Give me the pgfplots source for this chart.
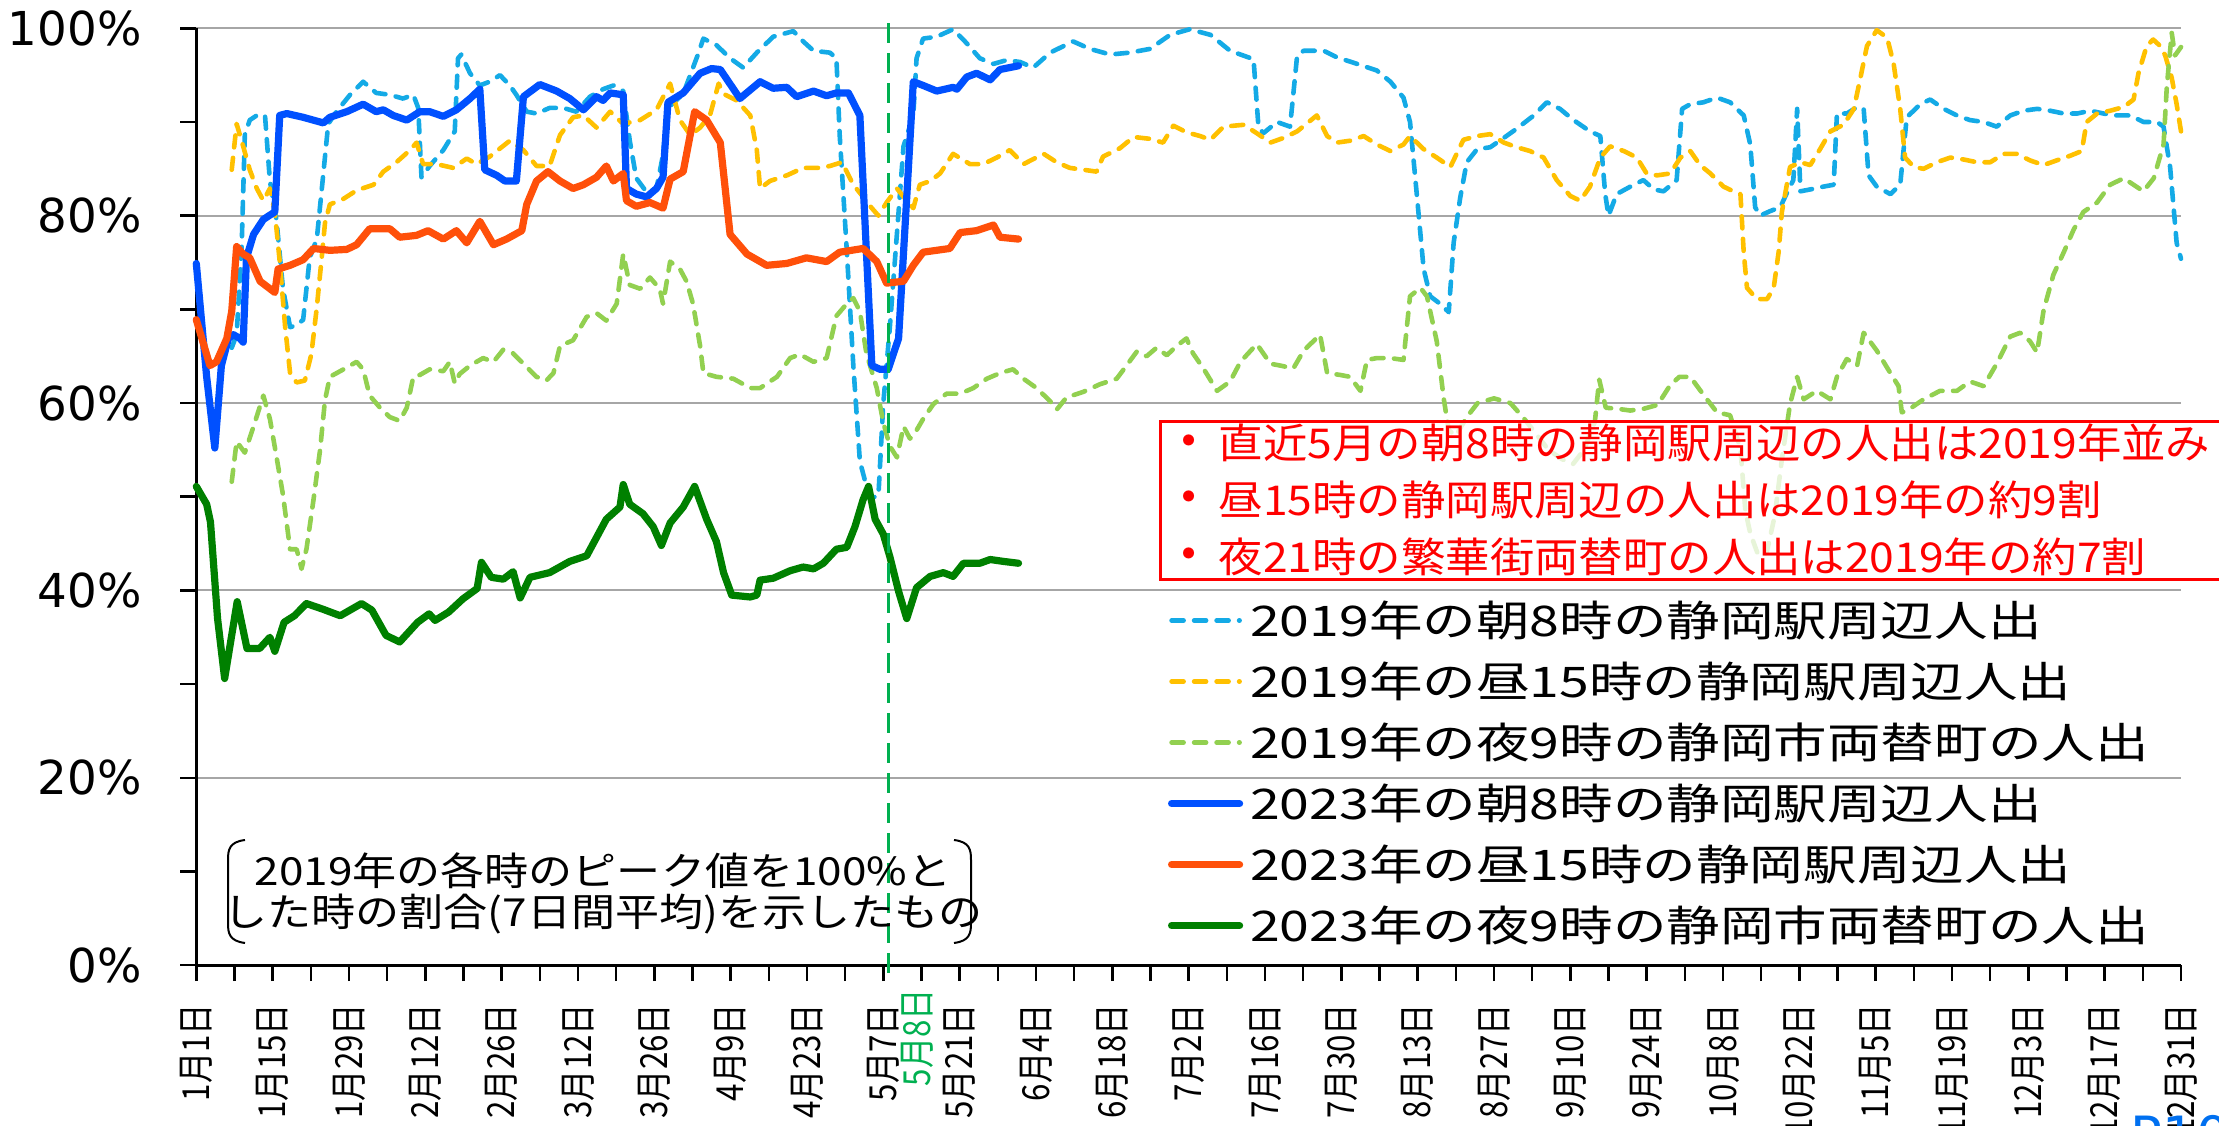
\documentclass[border=0pt]{standalone}
\usepackage{fontspec}
\usepackage{pgfplots}
\pgfplotsset{compat=1.18}
\setmainfont{DejaVu Sans}
\newfontfamily\jpleg[FakeStretch=1.27]{Noto Sans CJK JP}
\newfontfamily\jpred[FakeStretch=1.08]{Noto Sans CJK JP}
\newfontfamily\jpnote[FakeStretch=1.14]{Noto Sans CJK JP}
\newfontfamily\jpx[FakeStretch=0.84]{Noto Sans CJK JP}
\newfontfamily\yfont{DejaVu Sans}
\definecolor{cy}{RGB}{20,170,230}
\definecolor{og}{RGB}{255,192,0}
\definecolor{lg}{RGB}{146,208,80}
\definecolor{bl}{RGB}{0,80,255}
\definecolor{rd}{RGB}{255,80,10}
\definecolor{dg}{RGB}{0,128,0}
\definecolor{vg}{RGB}{0,176,80}
\definecolor{pb}{RGB}{0,112,240}
\begin{document}
\begin{tikzpicture}
\useasboundingbox (0,0) rectangle (221.9mm,112.6mm);
\begin{axis}[
 at={(19.63mm,16.08mm)}, anchor=south west,
 scale only axis, width=198.47mm, height=93.69mm,
 xmin=0, xmax=364, ymin=0, ymax=100,
 axis lines=left, axis line style={-, line width=0.3mm, black},
 clip=false,
 xtick={0,14,...,364},
 xticklabels={1月1日,1月15日,1月29日,2月12日,2月26日,3月12日,3月26日,4月9日,4月23日,5月7日,5月21日,6月4日,6月18日,7月2日,7月16日,7月30日,8月13日,8月27日,9月10日,9月24日,10月8日,10月22日,11月5日,11月19日,12月3日,12月17日,12月31日},
 minor xtick={7,21,...,357},
 ytick={0,20,...,100},
 yticklabels={0\%,20\%,40\%,60\%,80\%,100\%},
 minor ytick={10,30,...,90},
 tick align=outside,
 major tick length=1.6mm, minor tick length=1.6mm,
 tick style={black, line width=0.25mm},
 ymajorgrids, grid style={gray!70, line width=0.2mm},
 xticklabel style={rotate=90, anchor=east, inner sep=0pt, xshift=-2.2mm, font=\jpx\fontsize{10.6pt}{12pt}\selectfont},
 yticklabel style={inner sep=0pt, xshift=-3.8mm, font=\yfont\fontsize{13.3pt}{15pt}\selectfont},
 legend style={at={(0.4896,0.3983)}, anchor=north west, draw=none, fill=none, inner sep=0pt, outer sep=0pt, row sep=0pt,
   font=\jpleg\fontsize{12pt}{14pt}\selectfont,
   nodes={inner sep=0pt, text height=4.4mm, text depth=1.7mm, anchor=base west},
   /tikz/every odd column/.append style={column sep=0.7mm}},
 legend cell align=left,
 legend image code/.code={\draw[#1] (0mm,1.55mm) -- (6.8mm,1.55mm);},
 dsh/.style={line width=0.46mm, dash pattern=on 1.2mm off 1.05mm, line cap=round, line join=round},
 sld/.style={line width=0.72mm, line join=round, line cap=round},
]
% 2019 morning
\addplot[cy, dsh] coordinates {(6.5,65.9)(7.4,67.3)(8.3,76.3)(8.9,88.6)(9.8,90.2)(11.1,90.7)(12.6,90.7)(13.5,83.7)(14.7,79.6)(15.9,72.2)(17.2,68.1)(18.4,68.3)(19.6,68.9)(20.8,75.5)(22.1,77.5)(23.3,84.5)(24.2,89.8)(25.7,91.1)(28.2,92.9)(30.6,94.3)(33,93.1)(35.5,92.9)(37.9,92.5)(39.8,92.9)(40.7,91.5)(41.3,84.1)(42.8,85.3)(45.3,87)(47.4,89)(48,96.8)(48.6,97.2)(50.2,95.2)(52,93.9)(53.8,94.3)(55.7,95)(57.5,93.9)(58.7,92.9)(60.6,91.1)(62.4,90.9)(64.8,91.5)(67.3,91.5)(69.7,91.1)(72.2,92.7)(74.6,93.5)(76.5,93.9)(78.3,93.3)(79.5,88)(80.7,84)(82.6,82.5)(84.4,82.9)(85.6,86.5)(86.5,91.5)(89.3,93)(92,97.2)(93,98.9)(95.4,98.2)(97.9,96.8)(100.3,95.8)(102.8,97.4)(105.8,99.1)(109.5,99.7)(111.3,98.6)(113.2,97.6)(116.2,97.4)(117.4,96.8)(118,88.6)(119.3,76.3)(120.5,64)(121.7,53.8)(122.6,51.8)(123.9,49.9)(125.1,50.1)(126,60)(127.2,68.1)(128.8,80.4)(129.7,87.4)(131.5,90.7)(132.1,96.8)(133.3,98.9)(135.8,99.1)(138.8,99.9)(141.3,98.4)(143.7,96.8)(146.2,96.2)(148.6,96.6)(151.1,96.4)(153.5,95.8)(156.6,97.4)(160.8,98.6)(163.9,97.8)(167.6,97.2)(171.2,97.4)(174.9,97.8)(178.6,99.3)(182.2,99.9)(186,99.3)(189.6,97.6)(193.9,96.7)(194.8,89.5)(195.7,88.8)(198.2,90)(200.6,89.5)(201.9,97.1)(203.1,97.6)(206.8,97.6)(209.2,96.9)(212.9,96.2)(216.5,95.5)(219,94.3)(221.4,92.6)(222.6,90)(223.9,81.9)(225.1,74.3)(226.3,71.4)(228.1,70.6)(229.7,69.7)(230.6,77.1)(231.8,81.9)(233,85.7)(234.9,87.1)(237.3,87.3)(239.8,88.3)(242.2,89.3)(245.3,90.7)(247.7,92.1)(250.1,91.4)(252.6,90.2)(255.6,89)(257.5,88.5)(258.4,82.3)(259,80)(260.5,82.3)(263,83.1)(265.4,83.8)(267.3,82.8)(269.1,82.6)(271.5,83.8)(272.5,91.4)(274,91.9)(276.4,92.1)(278.9,92.6)(281.3,92.1)(283.8,90.7)(285,87.6)(285.9,80.9)(286.8,80)(288.7,80.5)(290.5,80.9)(291.7,82.4)(292.9,83.8)(293.6,91.4)(294.2,82.6)(296,82.8)(298.4,83.1)(300.3,83.3)(300.9,90.9)(302.7,90.9)(304.6,91.6)(305.8,91.4)(306.7,84.3)(308.2,83.1)(310.7,82.3)(312.5,83.3)(313.7,90.5)(316.2,91.9)(318,92.4)(320.5,91.4)(322.9,90.7)(325.3,90.2)(327.8,90)(330.2,89.5)(332.7,90.7)(335.1,91.2)(337.6,91.4)(340,91.2)(342.5,90.9)(344.9,90.9)(347.4,91.2)(349.8,90.9)(352.2,90.7)(354.7,90.7)(357.1,90)(359.6,90)(360.8,89.5)(362,85.2)(363.2,77.1)(364,75.4)};
\addlegendentry{2019年の朝8時の静岡駅周辺人出}
% 2019 daytime
\addplot[og, dsh] coordinates {(6.5,84.9)(7.4,89.8)(8.6,87.4)(9.8,84.9)(11.1,82.9)(12.3,81.6)(13.5,82.9)(14.4,80.4)(15.3,75.1)(16.3,68.1)(17.2,63.2)(18.4,62.2)(19.9,62.4)(21.1,65.2)(22.1,70.2)(23,75.5)(23.6,79.2)(24.5,81.2)(27,81.8)(29.4,82.7)(32.5,83.3)(34.3,84.7)(36.7,85.7)(39.2,87)(40.4,87.8)(41.6,85.5)(44.1,85.5)(47.1,85.1)(49.6,86.1)(51.4,85.5)(53.8,86.3)(57.5,88)(60,87)(62.4,85.3)(64.8,85.3)(66.7,88.6)(69.1,90.5)(71,90.7)(73.4,89.4)(75.9,91.1)(78.3,89.8)(81.4,90.2)(84.4,91.3)(86.9,94.1)(88.7,90.2)(90.6,88.6)(92.4,89.4)(94.2,90.7)(95.8,94.1)(96.7,93)(99.1,92.3)(101.6,90.7)(102.8,87)(103.4,82.9)(105.2,83.7)(108.3,84.3)(111.3,85.1)(114.4,85.1)(116.2,85.3)(118.4,85.7)(120.5,83.3)(122.3,82)(123.9,80.8)(125.1,80)(126.6,81.4)(128.5,82.9)(130.3,81.6)(131.5,80.8)(132.7,83.3)(134.6,83.7)(136.4,84.5)(138.8,86.6)(141.9,85.5)(144.3,85.5)(146.8,86.2)(149.2,87)(151.7,85.5)(155.4,86.6)(157.8,85.7)(160.2,85.1)(162.7,84.9)(165.1,84.7)(166.3,86.3)(169.4,87.2)(171.9,88.4)(174.9,88.2)(177.3,87.8)(179.2,89.6)(181.6,88.9)(184.1,88.5)(186,88.1)(188.4,89.5)(192.1,89.7)(194.5,88.8)(197,87.8)(199.4,88.3)(201.9,89)(205.5,90.7)(207.4,88.5)(209.2,87.8)(211.6,88)(214.1,88.5)(216.5,87.6)(219,86.9)(221.4,87.6)(222.6,88.5)(225.1,87.1)(227.5,86.2)(230,85.2)(232.4,88.1)(234.9,88.5)(237.3,88.7)(239.8,87.8)(242.2,87.3)(244.6,86.9)(247.1,86.2)(249.5,83.8)(252,82.1)(253.8,81.6)(255.6,83.1)(257.5,86.2)(259.3,87.4)(261.8,86.9)(264.2,86.2)(266,84.5)(267.9,84.3)(270.3,84.5)(272.2,86.2)(274,86.9)(275.8,85.4)(277.7,84.5)(280.1,83.1)(281.9,82.6)(283.2,82.3)(283.8,76.1)(284.4,72.3)(286.2,71.1)(288.1,71.1)(289.3,72.3)(290.2,76.1)(290.8,80.4)(292.3,85.2)(294.2,85.7)(296,85.4)(297.8,87.1)(299.7,89)(302.1,89.7)(304,91.4)(305.2,94.7)(306.4,98.1)(308.2,99.8)(310.1,99)(311.3,96.2)(312.5,91.4)(313.4,86.2)(315,85.2)(316.8,85)(319.2,85.7)(321.7,86.2)(324.1,86)(326.6,85.7)(329,85.7)(331.5,86.6)(333.9,86.6)(336.3,85.9)(338.8,85.4)(341.2,85.9)(343.7,86.4)(345.8,86.9)(346.7,90)(348.6,90.9)(351,91.2)(353.5,91.6)(355.3,92.4)(356.2,95.2)(357.7,98.1)(358.9,98.8)(360.2,98.1)(361.1,97.1)(362.3,94.7)(363.2,91.9)(364,89)};
\addlegendentry{2019年の昼15時の静岡駅周辺人出}
% 2019 night
\addplot[lg, dsh] coordinates {(6.5,51.6)(7.4,55.9)(8.9,54.7)(10.5,57.5)(12.3,60.8)(13.5,58.3)(14.7,54.3)(15.9,50.2)(17.2,44.4)(18.4,44.4)(19.3,42.3)(20.2,44.4)(21.5,49.7)(22.7,55)(23.6,60.3)(24.5,62.8)(27,63.6)(29.4,64.4)(30.6,63.6)(31.8,60.8)(33.7,59.5)(35.5,58.5)(37.3,58.1)(38.6,59.5)(39.8,62.8)(41,63)(42.8,63.6)(45.3,63.4)(46.5,64.4)(47.4,62.1)(48.3,63.1)(50.2,64)(52.6,64.8)(54.5,64.4)(56.3,65.7)(58.1,65.3)(60,64.2)(62.4,62.8)(64.2,62.4)(65.5,63.2)(66.7,66.1)(69.1,66.7)(71.6,69.2)(73.4,69.6)(75.2,68.8)(77.1,70.6)(78.3,75.9)(79.5,72.6)(81.4,72.2)(83.2,73.4)(85,72.2)(85.6,70.6)(86.9,75.1)(88.7,74.3)(89.9,73)(91.1,70.6)(92.4,66.1)(93,63.2)(95.4,62.8)(98.5,62.6)(101.6,61.6)(103.4,61.6)(106.5,62.8)(108.9,64.8)(110.7,65.2)(113.2,64.4)(115.6,64.8)(117.4,69.3)(119.3,70.6)(120.5,71.2)(121.7,69.8)(122.9,65.3)(124.8,61.6)(126,57.9)(127.2,55.4)(128.5,54.2)(129.7,57.5)(130.9,56.2)(132.1,57.1)(133.3,58.3)(135.2,59.9)(137.6,61)(140.1,61)(142.5,61.6)(145,62.6)(147.4,63.2)(149.8,63.6)(151.7,62.6)(154.1,61.6)(156.6,60.2)(157.8,59.3)(159.6,60.6)(162.7,61.2)(165.7,62)(168.8,62.6)(170.6,64)(172.5,65.5)(174.3,65)(176.1,65.9)(178,65.1)(179.8,66.1)(181.6,66.9)(182.8,65.3)(184.7,63.7)(187.2,61.3)(189.6,62.3)(191.5,64.4)(194.5,66.3)(197,64.2)(198.8,64)(201.2,63.7)(203.1,65.6)(206.1,67.3)(207.4,63.2)(209.8,63)(211.6,62.8)(213.5,61.3)(214.7,64.6)(216.5,64.8)(219,64.8)(221.4,64.6)(222.6,71.4)(224.5,72.3)(225.7,71.4)(227.5,66.6)(228.8,60.4)(229.7,57.1)(231,56.5)(233,58.5)(235,60)(238,60.5)(241,60)(243.3,58.5)(246,56.5)(248,55)(250.5,54)(252.5,53.5)(254.5,55)(256.5,58)(257.3,62.5)(258.5,59.5)(260.5,59.4)(263,59.2)(265.5,59.4)(268,59.8)(270.3,61.9)(272,62.8)(274,62.8)(276.4,60.9)(278.9,59)(281.3,58.7)(283.2,55.1)(284.1,48.5)(285,46.1)(286.5,43.7)(288,44)(289.5,48)(290.8,54)(292.3,59.9)(293.6,62.8)(294.8,60.4)(297.2,61.3)(299.7,60.4)(300.9,62.8)(302.7,64.7)(304.6,64)(305.8,67.5)(308.2,65.6)(310.7,63.2)(312.2,61.8)(312.8,59)(314.3,59.4)(316.8,60.4)(319.8,61.3)(322.9,61.3)(325.3,62.3)(327.8,61.8)(330.2,64.2)(332.7,67.1)(334.5,67.5)(336.3,66.6)(337.6,65.4)(338.8,69.9)(340.6,73.7)(342.5,76.1)(344.3,78.5)(346.1,80.4)(348.6,81.4)(351,83.3)(353.5,84)(355.3,83.3)(357.1,82.6)(359,84)(360.8,87.6)(361.4,93.8)(362.3,99.5)(362.9,97.1)(364,98)};
\addlegendentry{2019年の夜9時の静岡市両替町の人出}
% 2023 morning
\addplot[bl, sld] coordinates {(0,74.9)(1.9,62.8)(3.4,55.2)(4.6,64)(5.9,66.9)(6.8,67.3)(8,66.9)(8.6,66.5)(9.2,75.5)(10.5,78)(12.3,79.6)(14.4,80.4)(15.3,90.7)(16.6,90.9)(19.6,90.5)(23.3,89.9)(24.5,90.5)(27.6,91.1)(30.6,91.9)(33,91.1)(34.3,91.3)(36.1,90.7)(38.6,90.2)(41,91.1)(42.8,91.1)(45.3,90.6)(47.7,91.3)(50.2,92.5)(52,93.5)(52.9,84.9)(55.1,84.3)(56.6,83.7)(58.7,83.7)(60,92.7)(63,94)(66.1,93.3)(68.5,92.5)(71,91.3)(73.4,92.7)(74.6,92.3)(75.9,93.1)(78.3,92.9)(78.9,82.9)(80.7,82.3)(82.6,82)(84.4,82.9)(85.6,84.1)(86.5,92.1)(89.3,93.1)(92.4,95.2)(94.5,95.7)(96.1,95.6)(99.7,92.5)(103.4,94.3)(105.8,93.6)(108.3,93.7)(110.1,92.7)(113.2,93.3)(115.6,92.8)(117.4,93.1)(119.6,93.1)(121.7,90.7)(123.9,64)(125.4,63.6)(126.9,63.6)(128.8,66.9)(130.3,82)(131.5,94.3)(133.3,93.9)(135.8,93.3)(138.8,93.7)(139.5,93.5)(141.3,94.8)(143.1,95.2)(145.6,94.5)(147.4,95.6)(150.8,96)};
\addlegendentry{2023年の朝8時の静岡駅周辺人出}
% 2023 daytime
\addplot[rd, sld] coordinates {(0,68.9)(2.5,64)(3.7,64.4)(5.6,66.9)(6.5,69.8)(7.4,76.7)(8.6,75.9)(9.8,75.5)(11.7,73)(14.4,71.8)(15,74.3)(17.2,74.7)(19.6,75.3)(21.5,76.5)(24.5,76.3)(27.6,76.4)(29.4,76.9)(31.8,78.6)(35.5,78.6)(37.3,77.7)(40.4,77.9)(42.5,78.4)(45.3,77.5)(47.7,78.4)(49.6,77.1)(52,79.4)(54.5,76.9)(56.9,77.5)(59.7,78.4)(60.6,81.2)(62.4,83.7)(64.5,84.7)(66.7,83.7)(69.1,82.9)(71,83.3)(73.4,84.1)(75.2,85.3)(76.5,83.7)(78.3,84.5)(78.9,81.6)(80.7,81)(83.2,81.4)(85.6,80.8)(86.9,83.9)(89.3,84.7)(91.4,91.1)(93.6,90.2)(96.1,87.8)(97.9,78)(101,75.9)(104.6,74.7)(108.3,74.9)(111.9,75.5)(115.6,75.1)(118,76.1)(122.3,76.5)(124.8,75.1)(126.6,72.8)(129.7,73)(131.5,74.7)(133.3,76.1)(138.2,76.5)(140.1,78.2)(143.1,78.4)(146.2,79)(147.4,77.7)(150.8,77.5)};
\addlegendentry{2023年の昼15時の静岡駅周辺人出}
% 2023 night
\addplot[dg, sld] coordinates {(0,51.1)(1.9,49.2)(2.6,47.3)(3.9,37)(5.2,30.6)(7.5,38.8)(9.3,33.8)(11.6,33.8)(13.5,35)(14.4,33.5)(16.1,36.6)(18,37.3)(20.2,38.6)(23.2,38)(26.4,37.3)(30.3,38.6)(32.2,37.9)(34.8,35.2)(37.3,34.5)(40.6,36.6)(42.7,37.5)(43.8,36.8)(46.3,37.7)(48.9,39.1)(51.5,40.2)(52.3,43)(54.1,41.4)(56.3,41.2)(58.1,42)(59.4,39.2)(61.2,41.4)(64.8,41.9)(68.5,43.1)(71.6,43.7)(75.2,47.6)(77.7,48.9)(78.3,51.3)(79.5,49.2)(81.9,48.2)(83.8,46.8)(85.3,44.8)(86.9,47.2)(89.3,48.9)(91.4,51.1)(93.6,47.6)(95.4,45.2)(96.7,41.9)(98.2,39.5)(101.6,39.3)(102.8,39.5)(103.4,41.1)(105.8,41.3)(108.9,42.1)(111.3,42.5)(113.2,42.3)(115,42.9)(117.4,44.4)(119.3,44.6)(120.8,46.8)(122.3,49.7)(123.3,51.1)(124.5,47.6)(126,46)(127.2,43.6)(128.8,39.9)(130.3,37)(132.1,40.3)(134.6,41.5)(137,41.9)(138.8,41.5)(140.7,42.9)(143.7,42.9)(145.6,43.3)(148,43.1)(150.8,42.9)};
\addlegendentry{2023年の夜9時の静岡市両替町の人出}
% marker line 5/8
\addplot[vg, line width=0.3mm, dash pattern=on 2mm off 1mm, forget plot] coordinates {(127,-0.8) (127,101)};
\node[rotate=90, anchor=east, inner sep=0pt, xshift=-2.3mm, text=vg, font=\jpx\fontsize{10.6pt}{12pt}\selectfont] at (axis cs:132.3,0) {5月8日};
\end{axis}
% red summary box
\draw[red, line width=0.25mm, fill=white, fill opacity=0.78] (116.07mm,54.67mm) rectangle (223mm,70.43mm);
\begin{scope}[every node/.style={inner sep=0pt, text=red, font=\jpred\fontsize{11.7pt}{13pt}\selectfont}]
\node at (118.9mm,68.27mm) {•};
\node at (118.9mm,62.6mm) {•};
\node at (118.9mm,56.93mm) {•};
\node[anchor=west] at (121.8mm,68.27mm) {直近5月の朝8時の静岡駅周辺の人出は2019年並み};
\node[anchor=west] at (121.8mm,62.6mm) {昼15時の静岡駅周辺の人出は2019年の約9割};
\node[anchor=west] at (121.8mm,56.93mm) {夜21時の繁華街両替町の人出は2019年の約7割};
\end{scope}
% note
\begin{scope}[every node/.style={inner sep=0pt, font=\jpnote\fontsize{11pt}{13pt}\selectfont}]
\node at (60.3mm,25.55mm) {2019年の各時のピーク値を100\%と};
\node at (60.3mm,21.15mm) {した時の割合(7日間平均)を示したもの};
\end{scope}
\draw[line width=0.2mm] (24.5mm,28.6mm) .. controls (22.9mm,28.4mm) and (22.8mm,27.6mm) .. (22.8mm,26.6mm) -- (22.8mm,20.3mm) .. controls (22.8mm,19.3mm) and (22.9mm,18.5mm) .. (24.5mm,18.3mm);
\draw[line width=0.2mm] (95.4mm,28.6mm) .. controls (97.0mm,28.4mm) and (97.1mm,27.6mm) .. (97.1mm,26.6mm) -- (97.1mm,20.3mm) .. controls (97.1mm,19.3mm) and (97.0mm,18.5mm) .. (95.4mm,18.3mm);
\node[anchor=north west, inner sep=0pt, text=pb, font=\yfont\fontsize{15pt}{17pt}\selectfont] at (213mm,1.1mm) {P10};
\end{tikzpicture}
\end{document}
